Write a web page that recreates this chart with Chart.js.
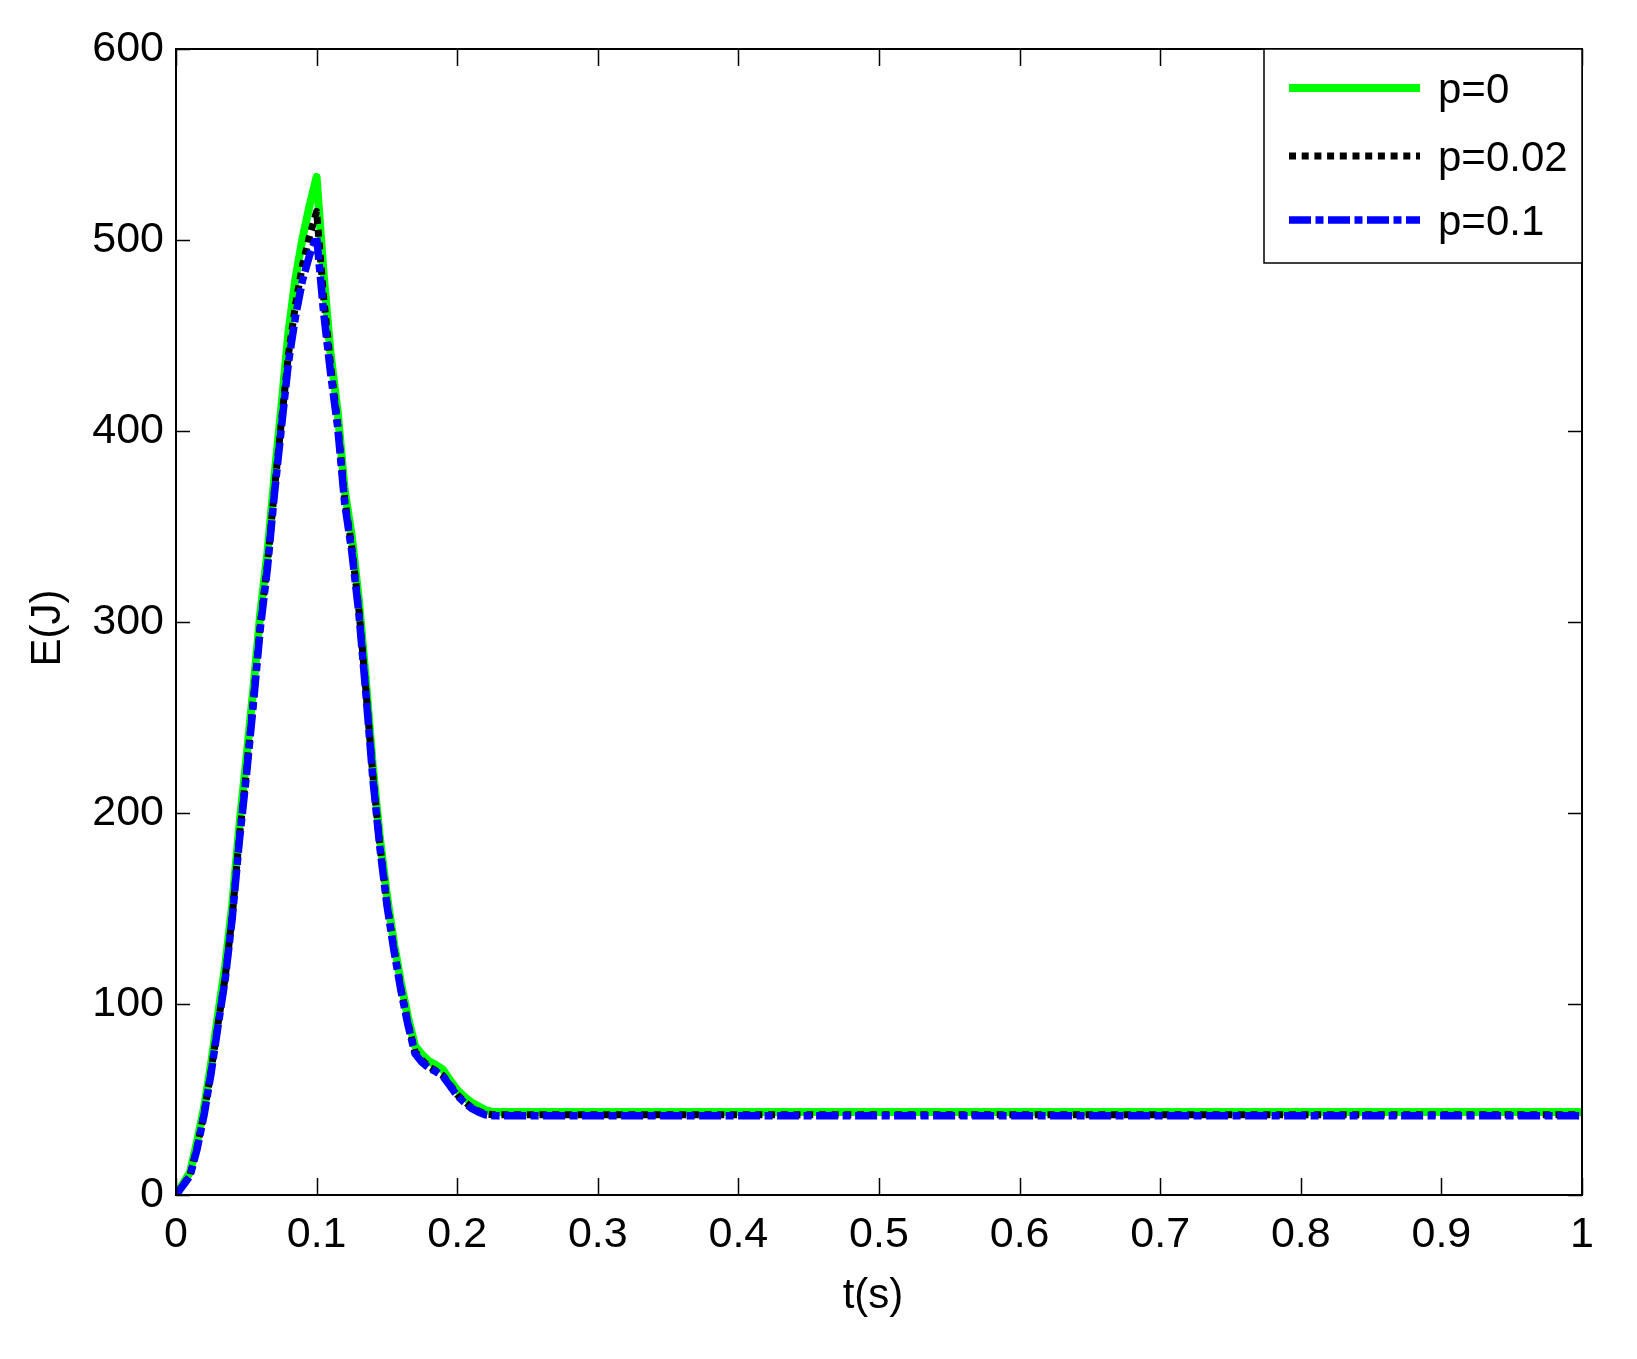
<!DOCTYPE html>
<html lang="en">

<head>
  <meta charset="utf-8">
  <title>E(J) vs t(s)</title>
  <script src="https://cdn.jsdelivr.net/npm/chart.js@4.4.0/dist/chart.umd.min.js"></script>
  <style>
    html, body { margin: 0; padding: 0; background: #fff; }
    #box { width: 1637px; height: 1359px; }
  </style>
</head>

<body>
  <div id="box"><canvas id="energy" width="1637" height="1359"></canvas></div>

  <script type="text/javascript">
    // time samples (s)
    var tVals = [0, 0.005, 0.01, 0.015, 0.02, 0.025, 0.03, 0.035, 0.04, 0.045, 0.05, 0.055, 0.06, 0.065,
      0.07, 0.075, 0.08, 0.085, 0.09, 0.095, 0.1, 0.105, 0.11, 0.115, 0.12, 0.125, 0.13, 0.135, 0.14,
      0.145, 0.15, 0.155, 0.16, 0.165, 0.17, 0.175, 0.18, 0.185, 0.19, 0.195, 0.2, 0.205, 0.21, 0.215,
      0.22, 0.225, 1];
    // energy (J) for each p
    var eP0 = [0, 6, 12, 28, 46, 69, 95, 120, 152, 193, 228, 265, 305, 336, 376, 413, 452, 480, 501, 518,
      533, 482, 440, 410, 369, 345, 312, 270, 224, 187, 157, 132, 111, 93, 78, 73.5, 70, 68, 65.5, 60, 55,
      51.5, 48.5, 46.5, 44.5, 43.5, 43.5];
    var eP002 = [0, 5, 10.5, 25, 43, 65, 90, 114, 146, 187, 221, 259, 299, 330, 369, 405, 440, 466, 487, 502,
      515, 470, 434, 404, 364, 339, 307, 265, 220, 183, 153, 129, 108, 90, 75, 70.5, 67, 65, 62.5, 57.5, 52.5,
      49, 46, 44, 42.5, 42, 42];
    var eP01 = [0, 5, 10, 24, 42, 64, 89, 113, 145, 185, 219, 257, 297, 328, 367, 402, 436, 460, 479, 492,
      502, 462, 430, 402, 362, 337, 305, 263, 218, 182, 152, 128, 107, 89, 74, 69.5, 66.5, 64.5, 62, 57, 52,
      48.5, 45.5, 43.5, 42, 41.5, 41.5];
    var seriesNames = ['p=0', 'p=0.02', 'p=0.1'];
    var xTicksStep = 0.1, yTicksStep = 100;

    var FONT = '"Liberation Sans", Arial, sans-serif';

    function pts(ys) {
      return tVals.map(function (t, i) { return { x: t, y: ys[i] }; });
    }

    // box, inner ticks, legend and axis titles
    var matlabFrame = {
      id: 'matlabFrame',
      afterDraw: function (chart) {
        var ctx = chart.ctx, a = chart.chartArea, sx = chart.scales.x, sy = chart.scales.y;
        ctx.save();
        ctx.strokeStyle = '#000';
        ctx.lineWidth = 1.5;
        ctx.beginPath();
        sx.ticks.forEach(function (t) {
          var px = Math.round(sx.getPixelForValue(t.value)) + 0.5;
          ctx.moveTo(px, a.bottom); ctx.lineTo(px, a.bottom - 17);
          ctx.moveTo(px, a.top); ctx.lineTo(px, a.top + 17);
        });
        sy.ticks.forEach(function (t) {
          var py = Math.round(sy.getPixelForValue(t.value)) + 0.5;
          ctx.moveTo(a.left, py); ctx.lineTo(a.left + 14, py);
          ctx.moveTo(a.right, py); ctx.lineTo(a.right - 14, py);
        });
        ctx.stroke();
        ctx.lineWidth = 2;
        ctx.strokeRect(a.left, a.top, a.right - a.left, a.bottom - a.top);

        // legend
        var lx = a.right - 318, ly = a.top, lw = 318, lh = 214;
        ctx.fillStyle = '#fff';
        ctx.fillRect(lx, ly, lw, lh);
        ctx.lineWidth = 1.5;
        ctx.strokeRect(lx, ly, lw, lh);
        var rows = [39, 107, 171];
        chart.data.datasets.forEach(function (ds, i) {
          var yy = ly + rows[i];
          ctx.beginPath();
          ctx.setLineDash(ds.borderDash || []);
          ctx.lineDashOffset = 0;
          ctx.lineCap = 'butt';
          ctx.strokeStyle = ds.borderColor;
          ctx.lineWidth = ds.borderWidth;
          ctx.moveTo(lx + 25, yy);
          ctx.lineTo(lx + 156, yy);
          ctx.stroke();
          ctx.setLineDash([]);
          ctx.fillStyle = '#000';
          ctx.font = '42px ' + FONT;
          ctx.textAlign = 'left';
          ctx.textBaseline = 'middle';
          ctx.fillText(ds.label, lx + 174, yy + 3);
        });

        // axis titles
        ctx.fillStyle = '#000';
        ctx.font = '42px ' + FONT;
        ctx.textAlign = 'center';
        ctx.textBaseline = 'middle';
        ctx.fillText('t(s)', (a.left + a.right) / 2 - 6, a.bottom + 101);
        ctx.translate(a.left - 128, (a.top + a.bottom) / 2 + 6);
        ctx.rotate(-Math.PI / 2);
        ctx.fillText('E(J)', 0, 0);
        ctx.restore();
      }
    };

    var energyChart = new Chart(document.getElementById('energy').getContext('2d'), {
      type: 'line',
      data: {
        datasets: [
          {
            label: seriesNames[0],
            data: pts(eP0),
            borderColor: '#00ff00',
            borderWidth: 8,
            order: 3
          },
          {
            label: seriesNames[1],
            data: pts(eP002),
            borderColor: '#000000',
            borderWidth: 7,
            borderDash: [7, 5.7],
            order: 2
          },
          {
            label: seriesNames[2],
            data: pts(eP01),
            borderColor: '#0000ff',
            borderWidth: 7.5,
            borderDash: [22, 4.5, 8, 4.5],
            order: 1
          }
        ]
      },
      options: {
        responsive: false,
        animation: false,
        devicePixelRatio: 1,
        elements: {
          point: { radius: 0, hoverRadius: 0 },
          line: { tension: 0, fill: false, borderCapStyle: 'butt', borderJoinStyle: 'round' }
        },
        layout: { padding: { left: 0, right: 55, top: 49, bottom: 0 } },
        plugins: {
          legend: { display: false },
          tooltip: { enabled: false }
        },
        scales: {
          x: {
            type: 'linear',
            min: 0,
            max: 1,
            grid: { display: false, drawTicks: false },
            border: { display: false },
            ticks: {
              stepSize: xTicksStep,
              padding: 14,
              color: '#000',
              font: { family: FONT, size: 43 },
              maxRotation: 0,
              callback: function (v) { return String(Number(v.toFixed(1))); }
            },
            afterFit: function (s) { s.height = 164; }
          },
          y: {
            type: 'linear',
            min: 0,
            max: 600,
            grid: { display: false, drawTicks: false },
            border: { display: false },
            ticks: {
              stepSize: yTicksStep,
              padding: 12,
              color: '#000',
              font: { family: FONT, size: 43 }
            },
            afterFit: function (s) { s.width = 176; }
          }
        }
      },
      plugins: [matlabFrame]
    });
  </script>
</body>

</html>
